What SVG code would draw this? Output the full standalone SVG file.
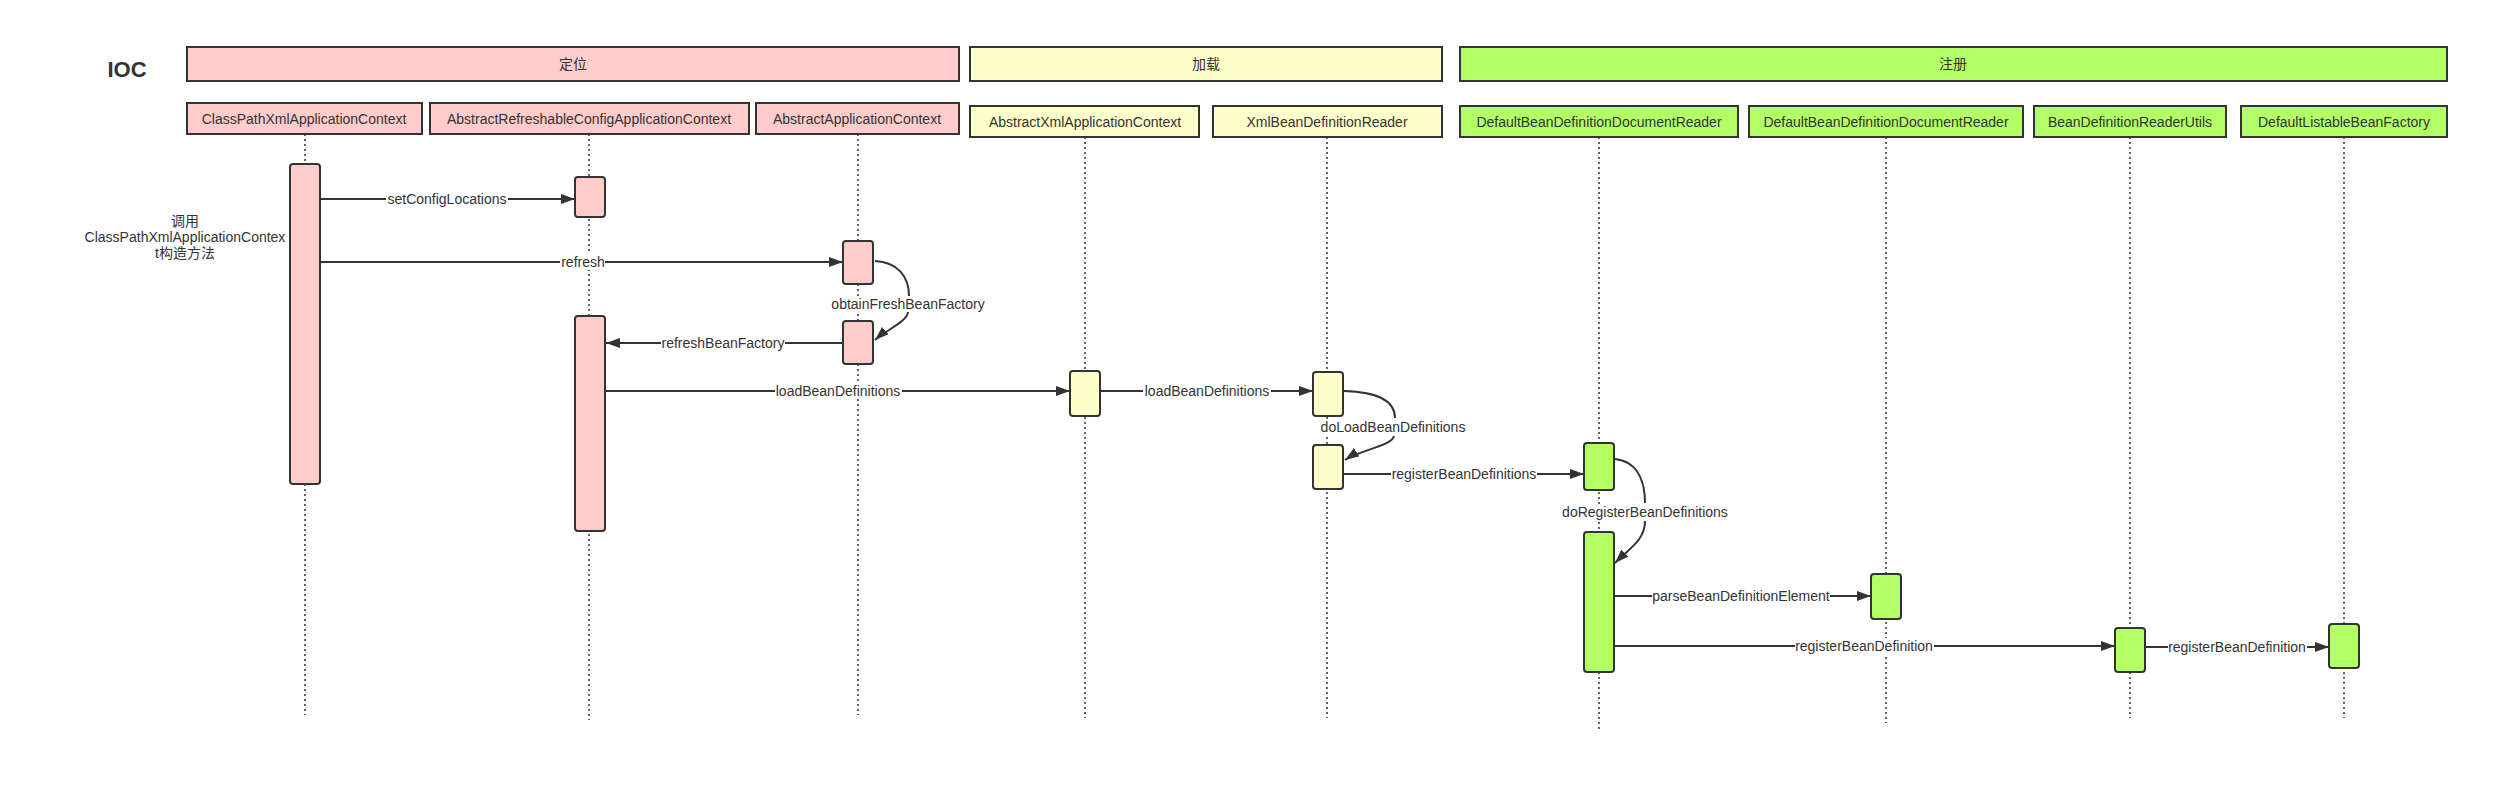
<svg xmlns="http://www.w3.org/2000/svg" width="2509" height="794" viewBox="0 0 2509 794">
<style>
text{font-family:"Liberation Sans","Noto Sans CJK SC",sans-serif;font-size:14px;fill:#333;text-anchor:middle}
.hd{stroke:#333;stroke-width:2}
.pk{fill:#FFCCCC}.yl{fill:#FFFFCC}.gr{fill:#B3FF66}
.box{stroke:#333;stroke-width:2}
.act{stroke:#333;stroke-width:2}
.life{stroke:#333;stroke-width:1.5;stroke-dasharray:2 3;fill:none}
.msg{stroke:#333;stroke-width:2;fill:none}
.lb{fill:#fff}
</style>
<defs>
<marker id="arr" markerUnits="userSpaceOnUse" markerWidth="15" markerHeight="11" refX="14" refY="5" orient="auto">
<path d="M0,0 L14,5 L0,10 z" fill="#333"/>
</marker>
</defs>
<rect width="2509" height="794" fill="#fff"/>
<text x="127" y="77" style="font-size:22px;font-weight:bold">IOC</text>

<g id="phase-dingwei"><rect class="hd pk" x="187" y="47" width="772" height="34"/><text x="573" y="69">定位</text></g>
<g id="phase-jiazai"><rect class="hd yl" x="970" y="47" width="472" height="34"/><text x="1206" y="69">加载</text></g>
<g id="phase-zhuce"><rect class="hd gr" x="1460" y="47" width="987" height="34"/><text x="1953" y="69">注册</text></g>

<g id="lifelines">
<line class="life" x1="305" y1="134" x2="305" y2="715"/>
<line class="life" x1="589" y1="134" x2="589" y2="720"/>
<line class="life" x1="858" y1="134" x2="858" y2="715"/>
<line class="life" x1="1085" y1="137" x2="1085" y2="718"/>
<line class="life" x1="1327" y1="137" x2="1327" y2="718"/>
<line class="life" x1="1599" y1="137" x2="1599" y2="730"/>
<line class="life" x1="1886" y1="137" x2="1886" y2="723"/>
<line class="life" x1="2130" y1="137" x2="2130" y2="718"/>
<line class="life" x1="2344" y1="137" x2="2344" y2="718"/>
</g>

<g id="ClassPathXmlApplicationContext">
<rect class="box pk" x="187" y="103" width="235" height="31"/><text x="304" y="124">ClassPathXmlApplicationContext</text>
<rect class="act pk" x="290" y="164" width="30" height="320" rx="3"/>
</g>
<g id="AbstractRefreshableConfigApplicationContext">
<rect class="box pk" x="430" y="103" width="319" height="31"/><text x="589" y="124">AbstractRefreshableConfigApplicationContext</text>
<rect class="act pk" x="575" y="177" width="30" height="40" rx="3"/>
<rect class="act pk" x="575" y="316" width="30" height="215" rx="3"/>
</g>
<g id="AbstractApplicationContext">
<rect class="box pk" x="756" y="103" width="203" height="31"/><text x="857" y="124">AbstractApplicationContext</text>
<rect class="act pk" x="843" y="241" width="30" height="43" rx="3"/>
<rect class="act pk" x="843" y="321" width="30" height="43" rx="3"/>
</g>
<g id="AbstractXmlApplicationContext">
<rect class="box yl" x="970" y="106" width="229" height="31"/><text x="1085" y="127">AbstractXmlApplicationContext</text>
<rect class="act yl" x="1070" y="371" width="30" height="45" rx="3"/>
</g>
<g id="XmlBeanDefinitionReader">
<rect class="box yl" x="1213" y="106" width="229" height="31"/><text x="1327" y="127">XmlBeanDefinitionReader</text>
<rect class="act yl" x="1313" y="372" width="30" height="44" rx="3"/>
<rect class="act yl" x="1313" y="445" width="30" height="44" rx="3"/>
</g>
<g id="DefaultBeanDefinitionDocumentReader-1">
<rect class="box gr" x="1460" y="106" width="278" height="31"/><text x="1599" y="127">DefaultBeanDefinitionDocumentReader</text>
<rect class="act gr" x="1584" y="443" width="30" height="47" rx="3"/>
<rect class="act gr" x="1584" y="532" width="30" height="140" rx="3"/>
</g>
<g id="DefaultBeanDefinitionDocumentReader-2">
<rect class="box gr" x="1749" y="106" width="274" height="31"/><text x="1886" y="127">DefaultBeanDefinitionDocumentReader</text>
<rect class="act gr" x="1871" y="574" width="30" height="45" rx="3"/>
</g>
<g id="BeanDefinitionReaderUtils">
<rect class="box gr" x="2034" y="106" width="192" height="31"/><text x="2130" y="127">BeanDefinitionReaderUtils</text>
<rect class="act gr" x="2115" y="628" width="30" height="44" rx="3"/>
</g>
<g id="DefaultListableBeanFactory">
<rect class="box gr" x="2241" y="106" width="206" height="31"/><text x="2344" y="127">DefaultListableBeanFactory</text>
<rect class="act gr" x="2329" y="624" width="30" height="44" rx="3"/>
</g>

<g id="note">
<text x="185" y="226">调用</text>
<text x="185" y="242">ClassPathXmlApplicationContex</text>
<text x="185" y="258">t构造方法</text>
</g>

<g id="connectors">
<line class="msg" x1="321" y1="199" x2="575" y2="199" marker-end="url(#arr)"/>
<rect class="lb" x="386" y="191" width="122" height="16"/><text x="447" y="204">setConfigLocations</text>

<line class="msg" x1="321" y1="262" x2="843" y2="262" marker-end="url(#arr)"/>
<rect class="lb" x="560" y="254" width="45" height="16"/><text x="583" y="267">refresh</text>

<path class="msg" d="M875,261 C897,262 909,276 909,296"/>
<path class="msg" d="M908,312 C907,322 886,330 875,340" marker-end="url(#arr)"/>
<rect class="lb" x="831" y="296" width="155" height="16"/><text x="908" y="309">obtainFreshBeanFactory</text>

<line class="msg" x1="843" y1="343" x2="606" y2="343" marker-end="url(#arr)"/>
<rect class="lb" x="661" y="335" width="124" height="16"/><text x="723" y="348">refreshBeanFactory</text>

<line class="msg" x1="606" y1="391" x2="1070" y2="391" marker-end="url(#arr)"/>
<rect class="lb" x="775" y="383" width="127" height="16"/><text x="838" y="396">loadBeanDefinitions</text>

<line class="msg" x1="1101" y1="391" x2="1313" y2="391" marker-end="url(#arr)"/>
<rect class="lb" x="1143" y="383" width="128" height="16"/><text x="1207" y="396">loadBeanDefinitions</text>

<path class="msg" d="M1344,391 C1380,392 1395,402 1395,418"/>
<path class="msg" d="M1394,436 C1392,446 1360,450 1345,460" marker-end="url(#arr)"/>
<rect class="lb" x="1320" y="419" width="147" height="16"/><text x="1393" y="432">doLoadBeanDefinitions</text>

<line class="msg" x1="1344" y1="474" x2="1584" y2="474" marker-end="url(#arr)"/>
<rect class="lb" x="1391" y="466" width="146" height="16"/><text x="1464" y="479">registerBeanDefinitions</text>

<path class="msg" d="M1615,459 C1640,462 1645,485 1645,503"/>
<path class="msg" d="M1645,521 C1645,540 1630,548 1615,563" marker-end="url(#arr)"/>
<rect class="lb" x="1561" y="504" width="168" height="16"/><text x="1645" y="517">doRegisterBeanDefinitions</text>

<line class="msg" x1="1615" y1="596" x2="1871" y2="596" marker-end="url(#arr)"/>
<rect class="lb" x="1652" y="588" width="178" height="16"/><text x="1741" y="601">parseBeanDefinitionElement</text>

<line class="msg" x1="1615" y1="646" x2="2115" y2="646" marker-end="url(#arr)"/>
<rect class="lb" x="1795" y="638" width="139" height="16"/><text x="1864" y="651">registerBeanDefinition</text>

<line class="msg" x1="2146" y1="647" x2="2329" y2="647" marker-end="url(#arr)"/>
<rect class="lb" x="2168" y="639" width="139" height="16"/><text x="2237" y="652">registerBeanDefinition</text>
</g>
</svg>
